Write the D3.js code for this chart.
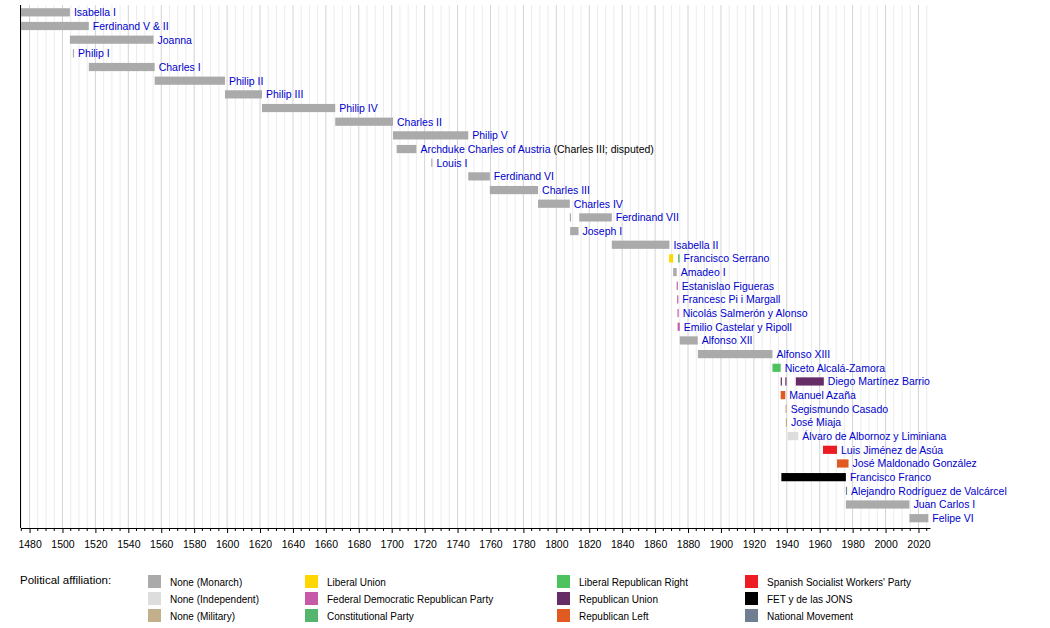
<!DOCTYPE html>
<html><head><meta charset="utf-8">
<script src="https://cdn.jsdelivr.net/npm/d3@7"></script>
<style>body{margin:0;background:#fff}text{font-family:"Liberation Sans",Arial,sans-serif}</style>
</head><body><svg id="c" width="1050" height="628"></svg>
<script>
// rulers in row order: name, note, segments [start, end, party]
const names = ["Isabella I","Ferdinand V & II","Joanna","Philip I","Charles I","Philip II","Philip III","Philip IV","Charles II","Philip V","Archduke Charles of Austria","Louis I","Ferdinand VI","Charles III","Charles IV","Ferdinand VII","Joseph I","Isabella II","Francisco Serrano","Amadeo I","Estanislao Figueras","Francesc Pi i Margall","Nicolás Salmerón y Alonso","Emilio Castelar y Ripoll","Alfonso XII","Alfonso XIII","Niceto Alcalá-Zamora","Diego Martínez Barrio","Manuel Azaña","Segismundo Casado","José Miaja","Álvaro de Albornoz y Liminiana","Luis Jiménez de Asúa","José Maldonado González","Francisco Franco","Alejandro Rodríguez de Valcárcel","Juan Carlos I","Felipe VI"];
const notes = {"Archduke Charles of Austria":" (Charles III; disputed)"};
const segments = [
  [[1474.5,1504.5,"M"]],
  [[1474.5,1516,"M"]],
  [[1504.5,1555.3,"M"]],
  [[1506.3,1506.8,"M"]],
  [[1516,1556,"M"]],
  [[1556,1598.7,"M"]],
  [[1598.7,1621.2,"M"]],
  [[1621.2,1665.7,"M"]],
  [[1665.7,1700.8,"M"]],
  [[1700.8,1746.5,"M"]],
  [[1703,1715,"M"]],
  [[1724,1724.6,"M"]],
  [[1746.5,1759.6,"M"]],
  [[1759.6,1788.9,"M"]],
  [[1788.9,1808.2,"M"]],
  [[1808.2,1808.5,"M"],[1813.9,1833.7,"M"]],
  [[1808.4,1813.5,"M"]],
  [[1833.7,1868.7,"M"]],
  [[1868.5,1871,"LU"],[1874,1874.9,"CP"]],
  [[1871,1873.1,"M"]],
  [[1873.1,1873.4,"FD"]],
  [[1873.4,1873.6,"FD"]],
  [[1873.6,1873.7,"FD"]],
  [[1873.7,1875,"FD"]],
  [[1875,1885.9,"M"]],
  [[1886,1931.3,"M"]],
  [[1931.3,1936.3,"LR"]],
  [[1936.3,1936.6,"RU"],[1939.1,1939.6,"RU"],[1945.5,1962.5,"RU"]],
  [[1936.3,1939.1,"RL"]],
  [[1939.2,1939.4,"MI"]],
  [[1939.4,1939.5,"MI"]],
  [[1940.5,1947,"IN"]],
  [[1962,1970.5,"PS"]],
  [[1970.5,1977.5,"RL"]],
  [[1936.7,1975.9,"FE"]],
  [[1975.9,1975.95,"NM"]],
  [[1975.9,2014.5,"M"]],
  [[2014.5,2026,"M"]]
];
const partyKeys = ["M","IN","MI","LU","FD","CP","LR","RU","RL","PS","FE","NM"];
const partyLabels = ["None (Monarch)","None (Independent)","None (Military)","Liberal Union","Federal Democratic Republican Party","Constitutional Party","Liberal Republican Right","Republican Union","Republican Left","Spanish Socialist Workers' Party","FET y de las JONS","National Movement"];
const partyColors = ["#aaaaaa","#dddddd","#c2b08c","#ffd700","#c659a8","#55b46d","#4cc35f","#662c66","#e05a21","#ed1c24","#000000","#6f7f91"];

const svg = d3.select("#c");
const x = d3.scaleLinear().domain([1474.5, 2027]).range([20.5, 930]);
const y = d3.scaleBand().domain(names).range([5.5, 525]).paddingInner(0.4).paddingOuter(0.2);
const color = d3.scaleOrdinal(partyKeys, partyColors);

// grid every 5 years
svg.append("g").selectAll("line").data(d3.range(1475, 2026, 5)).join("line")
  .attr("x1", d => x(d)).attr("x2", d => x(d)).attr("y1", 5).attr("y2", 528)
  .attr("stroke", d => d % 20 === 0 ? "#d4d4d4" : "#ececec");

names.forEach((n, i) => {
  const segs = segments[i];
  const g = svg.append("g");
  g.selectAll("rect").data(segs).join("rect")
    .attr("x", d => x(d[0])).attr("y", y(n))
    .attr("width", d => Math.max(1.2, x(d[1]) - x(d[0]))).attr("height", y.bandwidth())
    .attr("fill", d => color(d[2]));
  const end = d3.max(segs, d => Math.max(x(d[1]), x(d[0]) + 1.2));
  const t = g.append("text").attr("x", end + 4).attr("y", y(n) + y.bandwidth() / 2 + 4)
    .attr("font-size", 10.5).attr("fill", "#0000cc").text(n);
  if (notes[n]) t.append("tspan").attr("fill", "#000").text(notes[n]);
});

const ax = svg.append("g").attr("transform", "translate(0,528)")
  .call(d3.axisBottom(x).tickValues(d3.range(1480, 2021, 20)).tickFormat(d3.format("d")).tickSize(5).tickSizeOuter(0));
ax.select(".domain").attr("stroke", "#000");
ax.selectAll("text").attr("font-size", 10.5).attr("font-family", "Liberation Sans,Arial").attr("dy", "1.1em");
svg.append("g").attr("transform", "translate(0,528)").selectAll("line")
  .data(d3.range(1475, 2026, 5).filter(d => d % 20)).join("line")
  .attr("x1", d => x(d)).attr("x2", d => x(d)).attr("y1", 0).attr("y2", 3).attr("stroke", "#000");
svg.append("line").attr("x1", 20.5).attr("x2", 20.5).attr("y1", 5).attr("y2", 528).attr("stroke", "#000");

// legend
svg.append("text").attr("x", 20).attr("y", 584).attr("font-size", 11.5).text("Political affiliation:");
const colX = [148, 305, 557, 745];
partyKeys.forEach((k, i) => {
  const cx = colX[Math.floor(i / 3)], cy = 575 + (i % 3) * 17;
  svg.append("rect").attr("x", cx).attr("y", cy).attr("width", 13).attr("height", 13).attr("fill", color(k));
  svg.append("text").attr("x", cx + 22).attr("y", cy + 10.5).attr("font-size", 10).text(partyLabels[i]);
});
</script></body></html>
